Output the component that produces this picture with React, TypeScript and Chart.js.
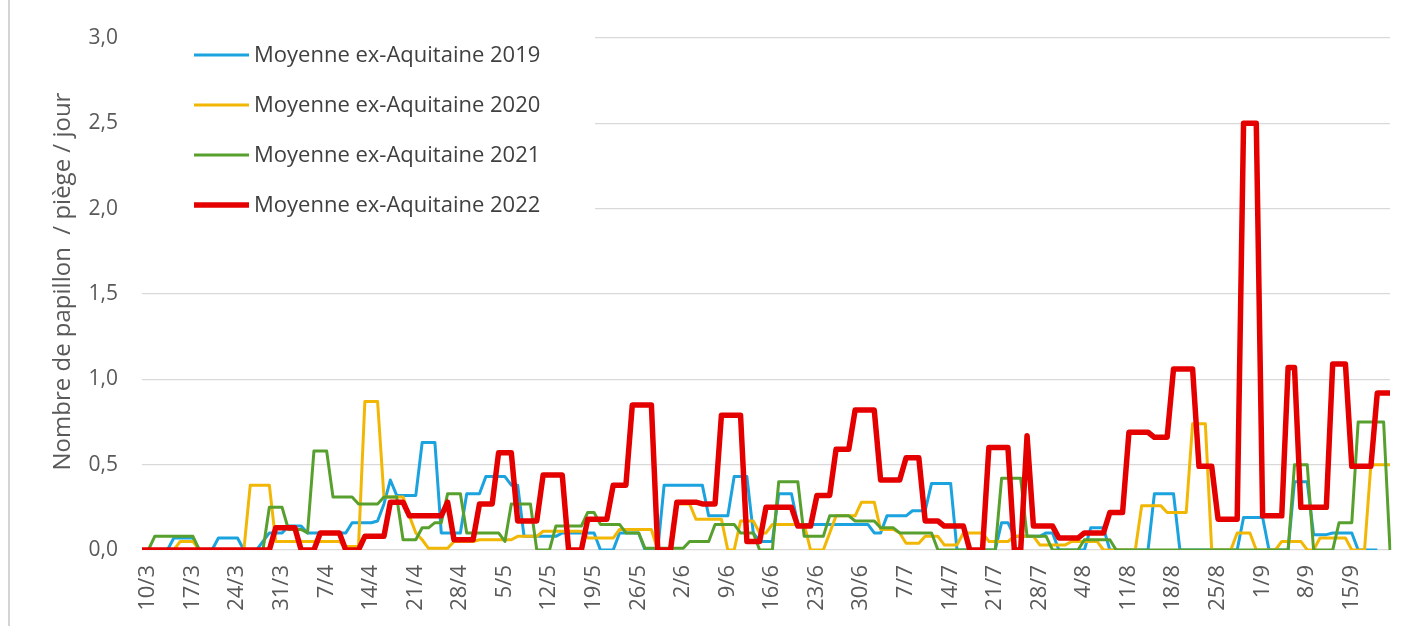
import React, { useEffect, useRef } from 'react';
import { Chart, registerables } from 'chart.js';

Chart.register(...registerables);

// Daily categories from 10/3 to 22/9
const FIRST_DAY_UTC = Date.UTC(2022, 2, 10);
const DAY_COUNT = 197;
const DAYS: string[] = Array.from({ length: DAY_COUNT }, (_, i) => {
  const d = new Date(FIRST_DAY_UTC + i * 86400000);
  return `${d.getUTCDate()}/${d.getUTCMonth() + 1}`;
});

const TICK_LABELS = [
  '10/3', '17/3', '24/3', '31/3', '7/4', '14/4', '21/4', '28/4', '5/5', '12/5',
  '19/5', '26/5', '2/6', '9/6', '16/6', '23/6', '30/6', '7/7', '14/7', '21/7',
  '28/7', '4/8', '11/8', '18/8', '25/8', '1/9', '8/9', '15/9',
];

const Y_TICKS = [0, 0.5, 1, 1.5, 2, 2.5, 3];

const SERIES_NAMES = [
  'Moyenne ex-Aquitaine 2019',
  'Moyenne ex-Aquitaine 2020',
  'Moyenne ex-Aquitaine 2021',
  'Moyenne ex-Aquitaine 2022',
];

const V2019: (number | null)[] = [
  0, 0, 0, 0, 0, 0.07, 0.07,
  0.07, 0.07, 0, 0, 0, 0.07, 0.07,
  0.07, 0.07, 0, 0, 0, 0.05, 0.1,
  0.1, 0.1, 0.14, 0.14, 0.14, 0.1, 0.1,
  0.1, 0.1, 0.1, 0.1, 0.1, 0.16, 0.16,
  0.16, 0.16, 0.17, 0.27, 0.41, 0.32, 0.32,
  0.32, 0.32, 0.63, 0.63, 0.63, 0.1, 0.1,
  0.1, 0.1, 0.33, 0.33, 0.33, 0.43, 0.43,
  0.43, 0.43, 0.38, 0.38, 0.08, 0.08, 0.08,
  0.08, 0.08, 0.08, 0.1, 0.1, 0.1, 0.1,
  0.1, 0.1, 0, 0, 0, 0.1, 0.1,
  0.1, 0.1, 0, 0, 0, 0.38, 0.38,
  0.38, 0.38, 0.38, 0.38, 0.38, 0.2, 0.2,
  0.2, 0.2, 0.43, 0.43, 0.43, 0.1, 0.05,
  0.05, 0.05, 0.33, 0.33, 0.33, 0.15, 0.15,
  0.15, 0.15, 0.15, 0.15, 0.15, 0.15, 0.15,
  0.15, 0.15, 0.15, 0.1, 0.1, 0.2, 0.2,
  0.2, 0.2, 0.23, 0.23, 0.23, 0.39, 0.39,
  0.39, 0.39, 0, 0, 0, 0, 0,
  0, 0, 0.16, 0.16, 0.08, 0.08, 0.08,
  0.08, 0.08, 0.1, 0.1, 0, 0, 0,
  0, 0, 0.13, 0.13, 0.13, 0, 0,
  0, 0, 0, 0, 0, 0.33, 0.33,
  0.33, 0.33, 0, 0, 0, 0, 0,
  0, 0, 0, 0, 0, 0.19, 0.19,
  0.19, 0.19, 0, 0, 0, 0, 0.4,
  0.4, 0.4, 0.09, 0.09, 0.09, 0.1, 0.1,
  0.1, 0.1, 0, 0, 0, 0, null,
  null,
];

const V2020: number[] = [
  0, 0, 0, 0, 0, 0, 0.05,
  0.05, 0.05, 0, 0, 0, 0, 0,
  0, 0, 0, 0.38, 0.38, 0.38, 0.38,
  0.05, 0.05, 0.05, 0.05, 0.05, 0.05, 0.05,
  0.05, 0.05, 0.05, 0.05, 0.02, 0.02, 0.02,
  0.87, 0.87, 0.87, 0.31, 0.31, 0.31, 0.31,
  0.2, 0.1, 0.06, 0.01, 0.01, 0.01, 0.01,
  0.05, 0.05, 0.05, 0.05, 0.06, 0.06, 0.06,
  0.06, 0.06, 0.06, 0.08, 0.08, 0.08, 0.08,
  0.11, 0.11, 0.11, 0.11, 0.11, 0.11, 0.11,
  0.07, 0.07, 0.07, 0.07, 0.07, 0.12, 0.12,
  0.12, 0.12, 0.12, 0.12, 0, 0, 0,
  0.27, 0.27, 0.27, 0.18, 0.18, 0.18, 0.18,
  0.18, 0, 0, 0.17, 0.17, 0.17, 0.1,
  0.1, 0.15, 0.15, 0.15, 0.15, 0.15, 0.15,
  0, 0, 0, 0.1, 0.2, 0.2, 0.2,
  0.2, 0.28, 0.28, 0.28, 0.12, 0.12, 0.12,
  0.1, 0.04, 0.04, 0.04, 0.08, 0.08, 0.08,
  0.03, 0.03, 0.03, 0.1, 0.1, 0.1, 0.1,
  0.05, 0.05, 0.05, 0.05, 0.08, 0.08, 0.08,
  0.08, 0.03, 0.03, 0.03, 0.03, 0.03, 0.05,
  0.05, 0.05, 0.05, 0.05, 0, 0, 0,
  0, 0, 0, 0.26, 0.26, 0.26, 0.26,
  0.22, 0.22, 0.22, 0.22, 0.74, 0.74, 0.74,
  0, 0, 0, 0, 0.1, 0.1, 0.1,
  0, 0, 0, 0, 0.05, 0.05, 0.05,
  0.05, 0, 0, 0.07, 0.07, 0.07, 0.07,
  0.07, 0, 0, 0, 0.5, 0.5, 0.5,
  0.5,
];

const V2021: number[] = [
  0, 0, 0.08, 0.08, 0.08, 0.08, 0.08,
  0.08, 0.08, 0, 0, 0, 0, 0,
  0, 0, 0, 0, 0, 0, 0.25,
  0.25, 0.25, 0.12, 0.12, 0.12, 0.1, 0.58,
  0.58, 0.58, 0.31, 0.31, 0.31, 0.31, 0.27,
  0.27, 0.27, 0.27, 0.31, 0.31, 0.31, 0.06,
  0.06, 0.06, 0.13, 0.13, 0.16, 0.16, 0.33,
  0.33, 0.33, 0.1, 0.1, 0.1, 0.1, 0.1,
  0.1, 0.05, 0.27, 0.27, 0.27, 0.27, 0,
  0, 0, 0.14, 0.14, 0.14, 0.14, 0.14,
  0.22, 0.22, 0.15, 0.15, 0.15, 0.15, 0.1,
  0.1, 0.1, 0.01, 0.01, 0.01, 0.01, 0.01,
  0.01, 0.01, 0.05, 0.05, 0.05, 0.05, 0.15,
  0.15, 0.15, 0.15, 0.1, 0.1, 0.1, 0,
  0, 0, 0.4, 0.4, 0.4, 0.4, 0.08,
  0.08, 0.08, 0.08, 0.2, 0.2, 0.2, 0.2,
  0.17, 0.17, 0.17, 0.17, 0.13, 0.13, 0.13,
  0.1, 0.1, 0.1, 0.1, 0.1, 0.1, 0,
  0, 0, 0, 0, 0, 0, 0,
  0, 0, 0.42, 0.42, 0.42, 0.42, 0.08,
  0.08, 0.08, 0.08, 0, 0, 0, 0,
  0, 0.06, 0.06, 0.06, 0.06, 0.06, 0,
  0, 0, 0, 0, 0, 0, 0,
  0, 0, 0, 0, 0, 0, 0,
  0, 0, 0, 0, 0, 0, 0,
  0, 0, 0, 0, 0, 0, 0.5,
  0.5, 0.5, 0, 0, 0, 0, 0.16,
  0.16, 0.16, 0.75, 0.75, 0.75, 0.75, 0.75,
  0,
];

const V2022: number[] = [
  0, 0, 0, 0, 0, 0, 0,
  0, 0, 0, 0, 0, 0, 0,
  0, 0, 0, 0, 0, 0, 0,
  0.13, 0.13, 0.13, 0.13, 0, 0, 0,
  0.1, 0.1, 0.1, 0.1, 0, 0, 0,
  0.08, 0.08, 0.08, 0.08, 0.28, 0.28, 0.28,
  0.2, 0.2, 0.2, 0.2, 0.2, 0.2, 0.28,
  0.06, 0.06, 0.06, 0.06, 0.27, 0.27, 0.27,
  0.57, 0.57, 0.57, 0.17, 0.17, 0.17, 0.17,
  0.44, 0.44, 0.44, 0.44, 0, 0, 0,
  0.18, 0.18, 0.18, 0.18, 0.38, 0.38, 0.38,
  0.85, 0.85, 0.85, 0.85, 0, 0, 0,
  0.28, 0.28, 0.28, 0.28, 0.27, 0.27, 0.27,
  0.79, 0.79, 0.79, 0.79, 0.05, 0.05, 0.05,
  0.25, 0.25, 0.25, 0.25, 0.25, 0.14, 0.14,
  0.14, 0.32, 0.32, 0.32, 0.59, 0.59, 0.59,
  0.82, 0.82, 0.82, 0.82, 0.41, 0.41, 0.41,
  0.41, 0.54, 0.54, 0.54, 0.17, 0.17, 0.17,
  0.14, 0.14, 0.14, 0.14, 0, 0, 0,
  0.6, 0.6, 0.6, 0.6, 0, 0, 0.67,
  0.14, 0.14, 0.14, 0.14, 0.07, 0.07, 0.07,
  0.07, 0.1, 0.1, 0.1, 0.1, 0.22, 0.22,
  0.22, 0.69, 0.69, 0.69, 0.69, 0.66, 0.66,
  0.66, 1.06, 1.06, 1.06, 1.06, 0.49, 0.49,
  0.49, 0.18, 0.18, 0.18, 0.18, 2.5, 2.5,
  2.5, 0.2, 0.2, 0.2, 0.2, 1.07, 1.07,
  0.25, 0.25, 0.25, 0.25, 0.25, 1.09, 1.09,
  1.09, 0.49, 0.49, 0.49, 0.49, 0.92, 0.92,
  0.92,
];

const SERIES_VALUES = [V2019, V2020, V2021, V2022];
const SERIES_COLORS = ['#1AA3DE', '#F2B705', '#58A02E', '#E50000'];
const SERIES_WIDTHS = [3, 3, 3, 5.5];
const SERIES_ORDER = [4, 3, 2, 1];

const FONT = "'Open Sans', 'Noto Sans', sans-serif";

const legendPlugin = {
  id: 'insideLegend',
  beforeDatasetsDraw(chart: any) {
    const { ctx, chartArea } = chart;
    ctx.save();
    ctx.fillStyle = '#ffffff';
    ctx.fillRect(chartArea.left - 2, chartArea.top - 12, 455, 200);
    const ys = [55, 105, 155, 205];
    ctx.font = `22px ${FONT}`;
    ctx.textBaseline = 'middle';
    ctx.textAlign = 'left';
    SERIES_NAMES.forEach((name, i) => {
      ctx.strokeStyle = SERIES_COLORS[i];
      ctx.lineWidth = SERIES_WIDTHS[i];
      ctx.beginPath();
      ctx.moveTo(194, ys[i]);
      ctx.lineTo(249, ys[i]);
      ctx.stroke();
      ctx.fillStyle = '#404040';
      ctx.fillText(name, 254, ys[i] + 1);
    });
    ctx.restore();
  },
};

export default function App() {
  const ref = useRef<HTMLCanvasElement | null>(null);

  useEffect(() => {
    if (!ref.current) return;
    const chart = new Chart(ref.current, {
      type: 'line',
      data: {
        labels: DAYS,
        datasets: SERIES_NAMES.map((name, i) => ({
          label: name,
          data: SERIES_VALUES[i],
          borderColor: SERIES_COLORS[i],
          backgroundColor: SERIES_COLORS[i],
          borderWidth: SERIES_WIDTHS[i],
          pointRadius: 0,
          tension: 0,
          order: SERIES_ORDER[i],
          borderJoinStyle: 'round' as const,
          spanGaps: false,
        })),
      },
      options: {
        responsive: false,
        animation: false,
        events: [],
        layout: { padding: { left: 9, right: 23, top: 38, bottom: 0 } },
        plugins: {
          legend: { display: false },
          tooltip: { enabled: false },
          title: { display: false },
        },
        scales: {
          x: {
            type: 'category',
            offset: false,
            grid: { display: false, drawTicks: false },
            border: { display: false },
            afterFit: (s: any) => {
              s.height = 626 - 550;
              s.paddingLeft = 0;
              s.paddingRight = 0;
            },
            ticks: {
              autoSkip: false,
              maxRotation: 90,
              minRotation: 90,
              padding: 15,
              labelOffset: 6,
              color: '#595959',
              font: { family: FONT, size: 22 },
              callback: (_v: any, idx: number) =>
                TICK_LABELS.includes(DAYS[idx]) ? DAYS[idx] : '',
            },
          },
          y: {
            min: 0,
            max: 3,
            afterBuildTicks: (s: any) => {
              s.ticks = Y_TICKS.map((v) => ({ value: v }));
            },
            afterFit: (s: any) => {
              s.width = 142 - 9;
            },
            grid: { color: '#d9d9d9', lineWidth: 1.3, drawTicks: false },
            border: { display: false },
            ticks: {
              padding: 24,
              color: '#595959',
              font: { family: FONT, size: 21 },
              callback: (v: any) => Number(v).toFixed(1).replace('.', ','),
            },
            title: {
              display: true,
              text: '    Nombre de papillon  / piège / jour',
              color: '#595959',
              font: { family: FONT, size: 24 },
              padding: { top: 40, bottom: 0 },
            },
          },
        },
      },
      plugins: [legendPlugin],
    });
    return () => chart.destroy();
  }, []);

  return (
    <div style={{ position: 'absolute', left: 0, top: 0, width: 1413, height: 626, background: '#fff' }}>
      <div style={{ position: 'absolute', left: 8, top: 0, width: 2, height: 626, background: '#d4d4d4' }} />
      <canvas ref={ref} width={1413} height={626} style={{ position: 'absolute', left: 0, top: 0, display: 'block' }} />
    </div>
  );
}
